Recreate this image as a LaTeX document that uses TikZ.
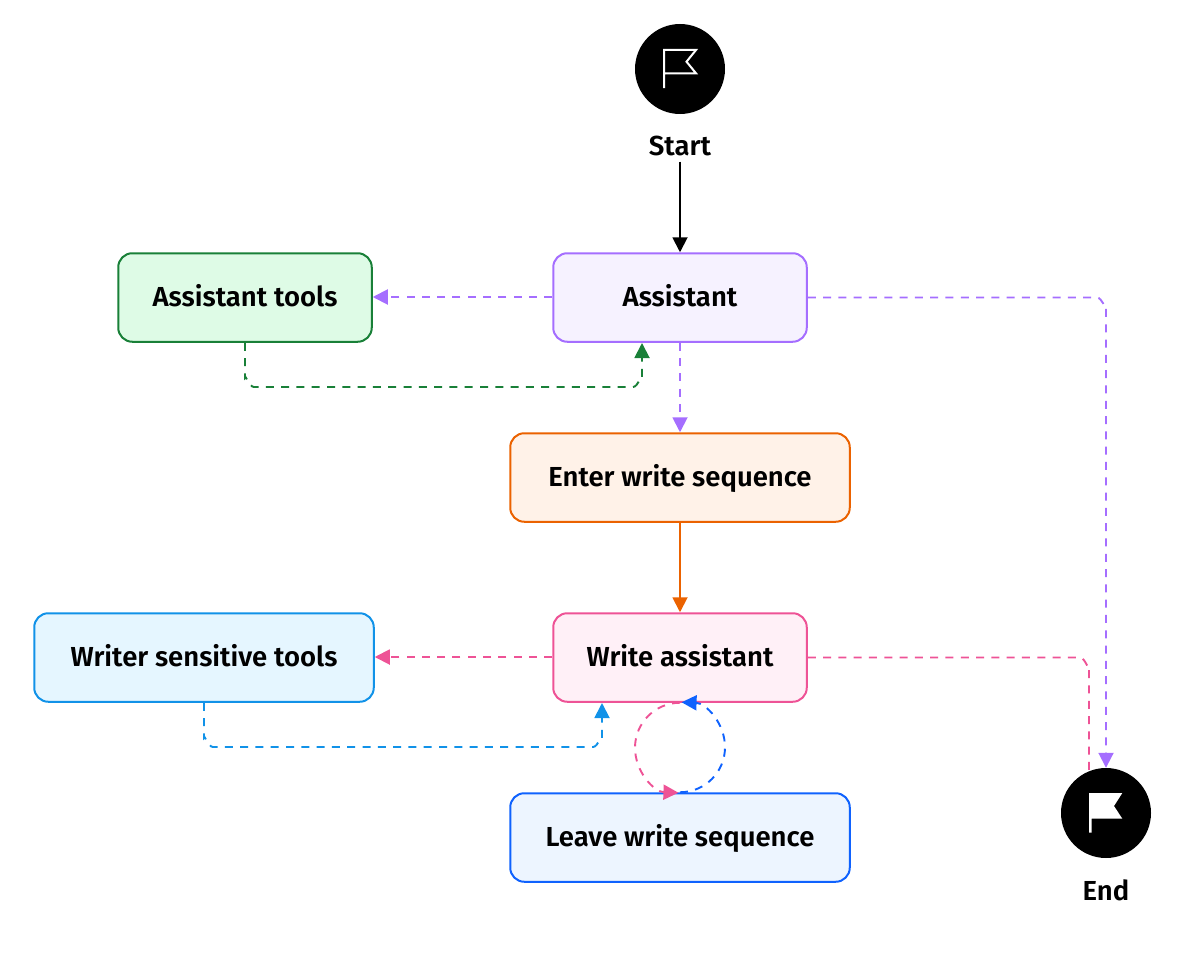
\documentclass[tikz,border=0pt]{standalone}
\usepackage{fontspec}
\setmainfont{Fira Sans}[BoldFont={Fira Sans SemiBold}]
\usetikzlibrary{arrows.meta}
\definecolor{cpurple}{HTML}{A56EFF}\definecolor{fpurple}{HTML}{F6F2FF}
\definecolor{cgreen}{HTML}{198038}\definecolor{fgreen}{HTML}{DEFBE6}
\definecolor{corange}{HTML}{EB6200}\definecolor{forange}{HTML}{FFF2E8}
\definecolor{cpink}{HTML}{EE5396}\definecolor{fpink}{HTML}{FFF0F7}
\definecolor{ccyan}{HTML}{1192E8}\definecolor{fcyan}{HTML}{E5F6FF}
\definecolor{cblue}{HTML}{0F62FE}\definecolor{fblue}{HTML}{EDF5FF}
\tikzset{
  x=1pt,y=-1pt,
  box/.style 2 args={draw=#1,fill=#2,line width=2pt,rounded corners=14pt,minimum height=88.5pt,inner sep=0pt,font=\fontsize{27.5}{32}\selectfont\bfseries,text=black,text height=22pt,text depth=4pt},
  narrow/.style={minimum width=253.5pt},
  wide/.style={minimum width=339.5pt},
  lbl/.style={font=\fontsize{27.5}{32}\selectfont\bfseries,text=black,inner sep=0pt},
  badge/.style={circle,fill=black,minimum size=90pt,inner sep=0pt},
  link/.style={draw=#1,line width=1.9pt,-{Triangle[length=15pt,width=15pt,fill=#1]}},
  dlink/.style={link=#1,dash pattern=on 8pt off 7.3pt},
}
\begin{document}
\begin{tikzpicture}
\useasboundingbox (0,0) rectangle (1178,966);
\node[box={cgreen}{fgreen},narrow] (tools) at (245,297.5) {Assistant tools};
\node[box={cpurple}{fpurple},narrow] (assistant) at (680,297.5) {Assistant};
\node[box={corange}{forange},wide] (enter) at (680,477.5) {Enter write sequence};
\node[box={cpink}{fpink},narrow] (write) at (680,657.5) {Write assistant};
\node[box={ccyan}{fcyan},wide] (sensitive) at (204,657.5) {Writer sensitive tools};
\node[box={cblue}{fblue},wide] (leave) at (680,837.5) {Leave write sequence};
\node[lbl] (startlabel) at (680,146) {Start};
\node[lbl] (endlabel) at (1106,890) {End};
\coordinate (asstIn) at (642,343);
\coordinate (writeIn) at (602,703);
\coordinate (pinkDown) at (1089,772);
% link under the end badge
\draw[dlink=cpink,-] (write.east) -- (1080,657.5) to[out=0,in=-90] (1089,667) -- (pinkDown);
\node[badge] (start) at (680,69) {};
\node[badge] (end) at (1106,813) {};
\draw[white,line width=2pt,line join=miter] (664,88) -- (664,50) -- (696,50) -- (686.5,61.7) -- (696,73.3) -- (664,73.3);
\fill[white] (1089,793) -- (1122.3,793) -- (1114,806) -- (1122.3,818.7) -- (1091.7,818.7) -- (1091.7,832.7) -- (1089,832.7) -- cycle;
\draw[link=black] ([yshift=-5.5pt]startlabel.south) -- (assistant.north);
\draw[dlink=cpurple] ([yshift=0.5pt]assistant.west) -- ([yshift=0.5pt]tools.east);
\draw[dlink=cgreen] (tools.south) -- (245,378) to[out=90,in=180] (254,387) -- (633,387) to[out=0,in=90] (642,378) -- (asstIn);
\draw[dlink=cpurple] (assistant.south) -- (enter.north);
\draw[dlink=cpurple] (assistant.east) -- (1097,297.5) to[out=0,in=-90] (1106,306) -- (end.north);
\draw[link=corange] (enter.south) -- (write.north);
\draw[dlink=cpink] ([yshift=0.5pt]write.west) -- ([yshift=0.5pt]sensitive.east);
\draw[dlink=ccyan] (sensitive.south) -- (204,738) to[out=90,in=180] (213,747) -- (593,747) to[out=0,in=90] (602,738) -- (writeIn);
\draw[dlink=cpink] (write.south) arc[start angle=-90,end angle=-268,radius=45];
\draw[dlink=cblue] (leave.north) arc[start angle=90,end angle=-88,radius=45];
\end{tikzpicture}
\end{document}
